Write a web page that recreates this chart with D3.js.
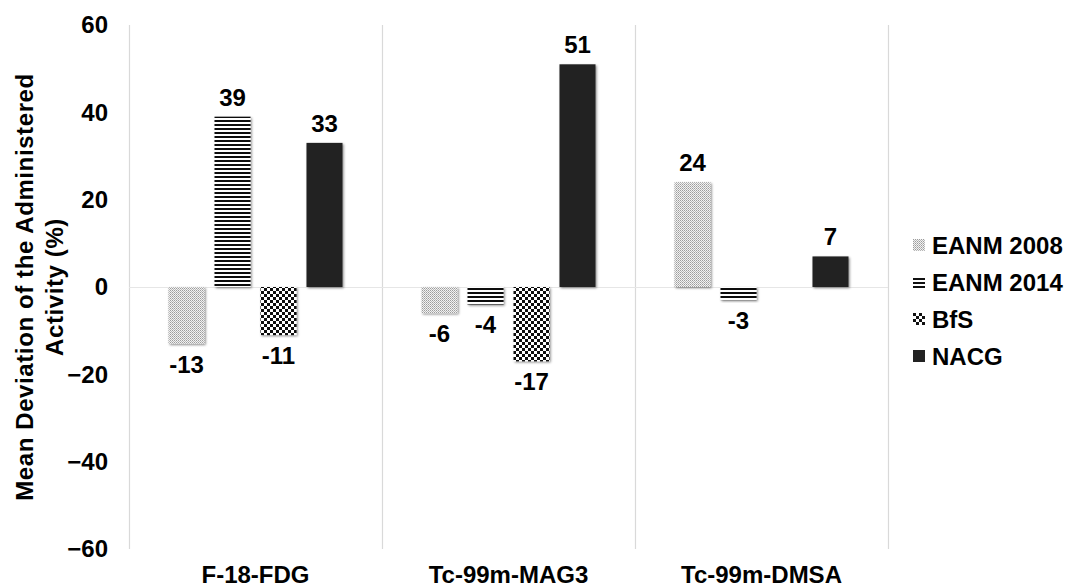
<!DOCTYPE html>
<html>
<head>
<meta charset="utf-8">
<script src="https://cdn.jsdelivr.net/npm/d3@7"></script>
<style>
  html, body { margin: 0; padding: 0; background: #fff; }
  svg { display: block; }
  text { font-family: "Liberation Sans", Arial, sans-serif; font-weight: bold; fill: #000; }
</style>
</head>
<body>
<svg id="chart" width="1070" height="587"></svg>
<script>
// Tracers and reference-level series
const categories = ["F-18-FDG", "Tc-99m-MAG3", "Tc-99m-DMSA"];
const seriesNames = ["EANM 2008", "EANM 2014", "BfS", "NACG"];
const eanm2008 = [-13, -6, 24];
const eanm2014 = [39, -4, -3];
const bfs = [-11, -17, null];
const nacg = [33, 51, 7];
const yTicks = [-60, -40, -20, 0, 20, 40, 60];

const seriesValues = [eanm2008, eanm2014, bfs, nacg];

const svg = d3.select("#chart");
const margin = { left: 129, right: 182, top: 25, bottom: 38 };
const W = 1070, H = 587;
const plotL = margin.left, plotR = W - margin.right;
const plotT = margin.top, plotB = H - margin.bottom;

const x0 = d3.scaleBand().domain(categories).range([plotL, plotR]).padding(0);
const groupW = 174;
const x1 = d3.scaleBand().domain(seriesNames)
  .range([(x0.bandwidth() - groupW) / 2, (x0.bandwidth() + groupW) / 2])
  .paddingInner(0.217).paddingOuter(0);
const y = d3.scaleLinear().domain([-60, 60]).range([plotB, plotT]);

// Fill patterns
const defs = svg.append("defs");
const p08 = defs.append("pattern").attr("id", "pat-eanm2008")
  .attr("patternUnits", "userSpaceOnUse").attr("width", 2).attr("height", 2);
p08.append("rect").attr("width", 2).attr("height", 2).attr("fill", "#f2f2f2");
p08.append("rect").attr("width", 1).attr("height", 1).attr("fill", "#9c9c9c");
p08.append("rect").attr("x", 1).attr("y", 1).attr("width", 1).attr("height", 1).attr("fill", "#b8b8b8");

const p14 = defs.append("pattern").attr("id", "pat-eanm2014")
  .attr("patternUnits", "userSpaceOnUse").attr("width", 4).attr("height", 4);
p14.append("rect").attr("width", 4).attr("height", 4).attr("fill", "#fff");
p14.append("rect").attr("width", 4).attr("height", 2).attr("fill", "#111");

const pbfs = defs.append("pattern").attr("id", "pat-bfs")
  .attr("patternUnits", "userSpaceOnUse").attr("width", 6).attr("height", 6);
pbfs.append("rect").attr("width", 6).attr("height", 6).attr("fill", "#fff");
pbfs.append("rect").attr("width", 3).attr("height", 3).attr("fill", "#111");
pbfs.append("rect").attr("x", 3).attr("y", 3).attr("width", 3).attr("height", 3).attr("fill", "#111");

const fills = {
  "EANM 2008": "url(#pat-eanm2008)",
  "EANM 2014": "url(#pat-eanm2014)",
  "BfS": "url(#pat-bfs)",
  "NACG": "#222"
};

const shadow = defs.append("filter").attr("id", "bar-shadow")
  .attr("x", "-20%").attr("y", "-20%").attr("width", "140%").attr("height", "140%");
shadow.append("feDropShadow").attr("dx", 1.2).attr("dy", 1.2)
  .attr("stdDeviation", 0.8).attr("flood-color", "#000").attr("flood-opacity", 0.45);

// Axis line, category separators and zero line
const gridColor = "#d9d9d9";
svg.append("line").attr("x1", plotL + 0.5).attr("x2", plotL + 0.5)
  .attr("y1", y(60)).attr("y2", y(-60)).attr("stroke", gridColor).attr("stroke-width", 1.2);
svg.selectAll("line.sep").data(categories).enter().append("line").attr("class", "sep")
  .attr("x1", d => x0(d) + x0.bandwidth() + 0.5).attr("x2", d => x0(d) + x0.bandwidth() + 0.5)
  .attr("y1", y(60)).attr("y2", y(-60)).attr("stroke", gridColor).attr("stroke-width", 1.2);
svg.append("line").attr("x1", plotL).attr("x2", plotR)
  .attr("y1", y(0) + 0.5).attr("y2", y(0) + 0.5).attr("stroke", "#e6e6e6").attr("stroke-width", 1);

// Y axis labels
const yAxis = d3.axisLeft(y).tickValues(yTicks).tickSize(0).tickPadding(21).tickFormat(d3.format("d"));
const gy = svg.append("g").attr("transform", `translate(${plotL},0)`).call(yAxis);
gy.select(".domain").remove();
gy.selectAll("text").attr("font-size", 24).style("font-family", "'Liberation Sans', Arial, sans-serif")
  .style("font-weight", "bold").attr("fill", "#000");

// Category labels
const xAxis = d3.axisBottom(x0).tickSize(0).tickPadding(0);
const gx = svg.append("g").attr("transform", `translate(0,${plotB + 17})`).call(xAxis);
gx.select(".domain").remove();
gx.selectAll("text").attr("font-size", 24).style("font-family", "'Liberation Sans', Arial, sans-serif")
  .style("font-weight", "bold").attr("fill", "#000");

// Y axis title
svg.append("text")
  .attr("transform", `translate(33,${y(0)}) rotate(-90)`)
  .attr("text-anchor", "middle").attr("font-size", 24).style("letter-spacing", "0.6px")
  .text("Mean Deviation of the Administered");
svg.append("text")
  .attr("transform", `translate(63,${y(0)}) rotate(-90)`)
  .attr("text-anchor", "middle").attr("font-size", 24).style("letter-spacing", "0.6px")
  .text("Activity (%)");

// Bars
const barData = [];
categories.forEach((c, ci) => {
  seriesNames.forEach((s, si) => {
    const v = seriesValues[si][ci];
    if (v !== null) barData.push({ c, s, v });
  });
});

const gBars = svg.append("g");
gBars.selectAll("rect").data(barData).enter().append("rect")
  .attr("x", d => x0(d.c) + x1(d.s))
  .attr("width", x1.bandwidth())
  .attr("y", d => y(Math.max(0, d.v)))
  .attr("height", d => Math.abs(y(d.v) - y(0)))
  .attr("fill", d => fills[d.s])
  .attr("filter", "url(#bar-shadow)");

// Value labels
svg.append("g").selectAll("text").data(barData).enter().append("text")
  .attr("x", d => x0(d.c) + x1(d.s) + x1.bandwidth() / 2)
  .attr("y", d => d.v >= 0 ? y(d.v) - 11 : y(d.v) + 29)
  .attr("text-anchor", "middle").attr("font-size", 24)
  .text(d => d.v);

// Legend
const legend = svg.append("g").attr("transform", "translate(913,245)");
const items = legend.selectAll("g").data(seriesNames).enter().append("g")
  .attr("transform", (d, i) => `translate(0,${i * 37})`);
items.append("rect").attr("x", 0).attr("y", -6).attr("width", 12).attr("height", 12)
  .attr("fill", d => fills[d]);
items.append("text").attr("x", 19).attr("y", 0).attr("dy", "0.36em")
  .attr("font-size", 24).text(d => d);
</script>
</body>
</html>
